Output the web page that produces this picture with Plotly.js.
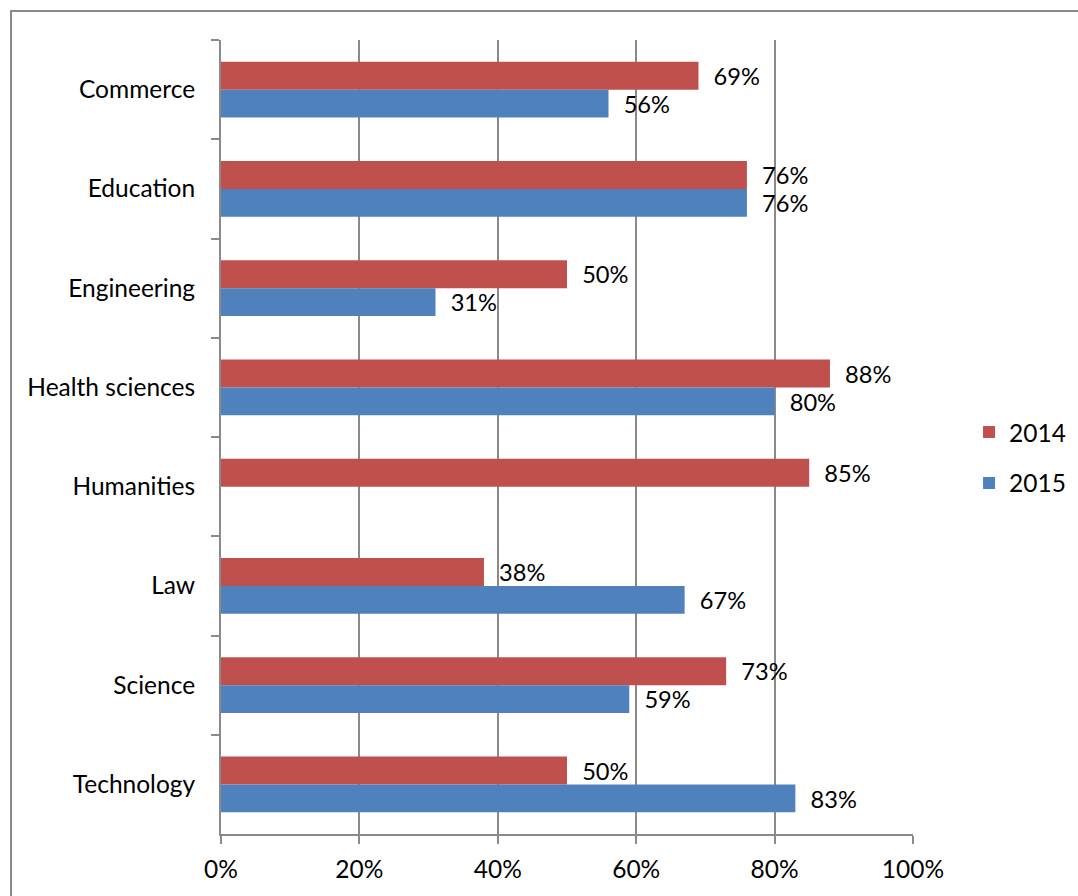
<!DOCTYPE html>
<html>
<head>
<meta charset="utf-8">
<script src="https://cdn.plot.ly/plotly-3.0.1.min.js"></script>
<style>
  html, body { margin: 0; padding: 0; background: #fff; }
  #frame { position: absolute; left: 10px; top: 10px; width: 1200px; height: 1000px;
           border-left: 2px solid #8a8a8a; border-top: 2px solid #8a8a8a; pointer-events: none; }
  #chart { position: absolute; left: 0; top: 0; width: 1078px; height: 896px; }
</style>
</head>
<body>
<div id="chart"></div>
<div id="frame"></div>
<script>
const categories = ["Commerce", "Education", "Engineering", "Health sciences", "Humanities", "Law", "Science", "Technology"];
const values2014 = [69, 76, 50, 88, 85, 38, 73, 50];
const values2015 = [56, 76, 31, 80, null, 67, 59, 83];
const xTickVals = [0, 20, 40, 60, 80, 100];
const xTickText = ["0%", "20%", "40%", "60%", "80%", "100%"];

const FONT = "Lato, 'Noto Sans', sans-serif";
const FS = 24.5;

const traces = [
  {
    type: "bar", orientation: "h", name: "2014",
    y: categories, x: values2014,
    marker: { color: "#C0504D" },
    text: values2014.map(v => v == null ? "" : "\u00a0\u00a0" + v + "%"),
    textposition: "outside", cliponaxis: false,
    textfont: { family: FONT, size: FS, color: "#000" },
    legendgroup: "a", hoverinfo: "x+y"
  },
  {
    type: "bar", orientation: "h", name: "2015",
    y: categories, x: values2015,
    marker: { color: "#4F81BD" },
    text: values2015.map(v => v == null ? "" : "\u00a0\u00a0" + v + "%"),
    textposition: "outside", cliponaxis: false,
    textfont: { family: FONT, size: FS, color: "#000" },
    legendgroup: "b", hoverinfo: "x+y"
  }
];

const layout = {
  width: 1078, height: 896,
  margin: { l: 221, r: 165, t: 40, b: 62, autoexpand: false },
  paper_bgcolor: "rgba(0,0,0,0)", plot_bgcolor: "rgba(0,0,0,0)",
  font: { family: FONT, size: FS, color: "#000" },
  barmode: "group",
  bargap: 0.436, bargroupgap: 0,
  showlegend: true,
  legend: {
    x: 1.081, xanchor: "left", y: 0.474, yanchor: "middle",
    font: { family: FONT, size: FS, color: "#000" },
    tracegroupgap: 16, itemwidth: 30, bgcolor: "rgba(0,0,0,0)"
  },
  xaxis: {
    range: [0, 100], tickmode: "array", tickvals: xTickVals, ticktext: xTickText,
    showgrid: true, gridcolor: "#8a8a8a", gridwidth: 2,
    showline: true, linecolor: "#8a8a8a", linewidth: 2,
    ticks: "outside", ticklen: 8, tickcolor: "#8a8a8a", tickwidth: 2,
    ticklabelstandoff: 5,
    zeroline: false, fixedrange: true, automargin: false
  },
  yaxis: {
    type: "category", autorange: "reversed",
    showgrid: false, showline: true, linecolor: "#8a8a8a", linewidth: 2,
    ticks: "outside", tickson: "boundaries", ticklen: 8, tickcolor: "#8a8a8a", tickwidth: 2,
    ticklabelstandoff: 19,
    zeroline: false, fixedrange: true, automargin: false
  }
};

Plotly.newPlot("chart", traces, layout, { displayModeBar: false, staticPlot: true });
</script>
</body>
</html>
